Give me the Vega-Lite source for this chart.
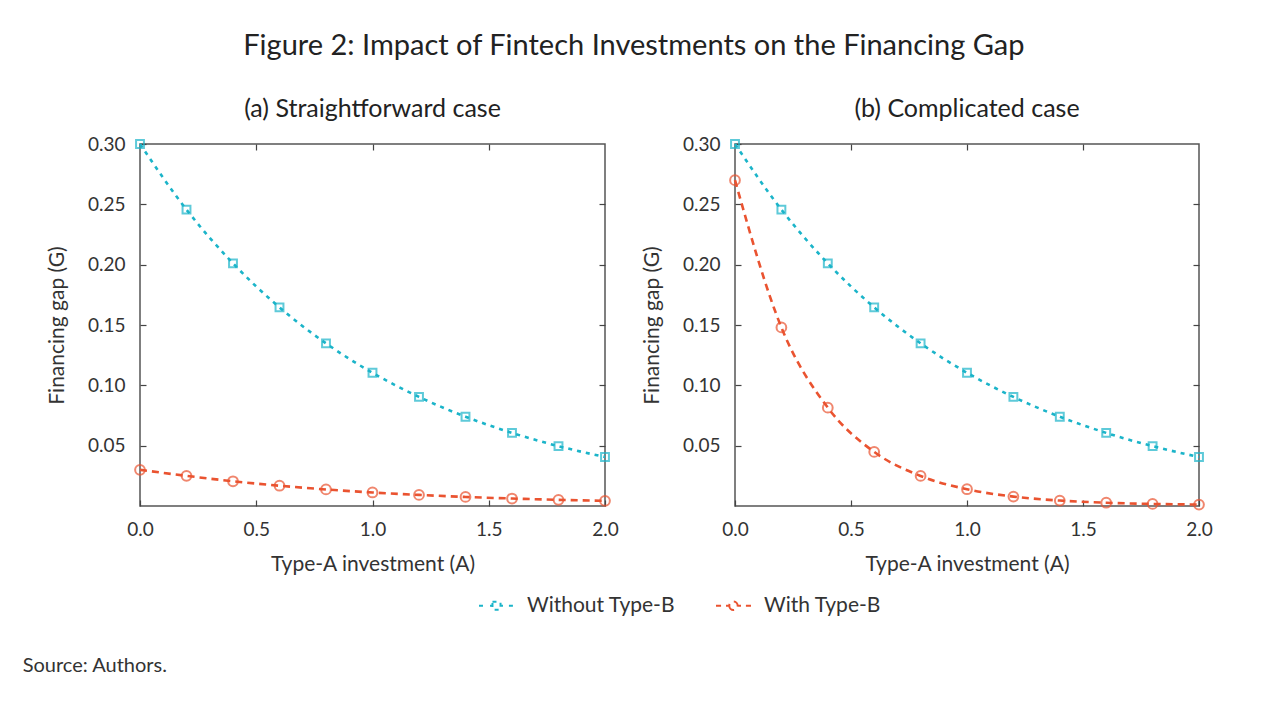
{
  "$schema": "https://vega.github.io/schema/vega-lite/v6.json",
  "padding": {"left": 22, "top": 32, "right": 10, "bottom": 10},
  "background": "white",
  "title": {"text": "Figure 2: Impact of Fintech Investments on the Financing Gap", "fontSize": 29, "font": "Lato", "fontWeight": "normal", "color": "#222222", "anchor": "middle", "offset": 35, "dx": 16},
  "datasets": {
    "d": [
      {"panel": "a", "series": "Without Type-B", "A": 0.0, "G": 0.300},
      {"panel": "a", "series": "Without Type-B", "A": 0.2, "G": 0.2456},
      {"panel": "a", "series": "Without Type-B", "A": 0.4, "G": 0.2011},
      {"panel": "a", "series": "Without Type-B", "A": 0.6, "G": 0.1646},
      {"panel": "a", "series": "Without Type-B", "A": 0.8, "G": 0.1348},
      {"panel": "a", "series": "Without Type-B", "A": 1.0, "G": 0.1104},
      {"panel": "a", "series": "Without Type-B", "A": 1.2, "G": 0.0904},
      {"panel": "a", "series": "Without Type-B", "A": 1.4, "G": 0.0740},
      {"panel": "a", "series": "Without Type-B", "A": 1.6, "G": 0.0606},
      {"panel": "a", "series": "Without Type-B", "A": 1.8, "G": 0.0496},
      {"panel": "a", "series": "Without Type-B", "A": 2.0, "G": 0.0406},
      {"panel": "a", "series": "With Type-B", "A": 0.0, "G": 0.0300},
      {"panel": "a", "series": "With Type-B", "A": 0.2, "G": 0.0250},
      {"panel": "a", "series": "With Type-B", "A": 0.4, "G": 0.0205},
      {"panel": "a", "series": "With Type-B", "A": 0.6, "G": 0.0168},
      {"panel": "a", "series": "With Type-B", "A": 0.8, "G": 0.0137},
      {"panel": "a", "series": "With Type-B", "A": 1.0, "G": 0.0112},
      {"panel": "a", "series": "With Type-B", "A": 1.2, "G": 0.0092},
      {"panel": "a", "series": "With Type-B", "A": 1.4, "G": 0.0075},
      {"panel": "a", "series": "With Type-B", "A": 1.6, "G": 0.0062},
      {"panel": "a", "series": "With Type-B", "A": 1.8, "G": 0.0051},
      {"panel": "a", "series": "With Type-B", "A": 2.0, "G": 0.0043},
      {"panel": "b", "series": "Without Type-B", "A": 0.0, "G": 0.300},
      {"panel": "b", "series": "Without Type-B", "A": 0.2, "G": 0.2456},
      {"panel": "b", "series": "Without Type-B", "A": 0.4, "G": 0.2011},
      {"panel": "b", "series": "Without Type-B", "A": 0.6, "G": 0.1646},
      {"panel": "b", "series": "Without Type-B", "A": 0.8, "G": 0.1348},
      {"panel": "b", "series": "Without Type-B", "A": 1.0, "G": 0.1104},
      {"panel": "b", "series": "Without Type-B", "A": 1.2, "G": 0.0904},
      {"panel": "b", "series": "Without Type-B", "A": 1.4, "G": 0.0740},
      {"panel": "b", "series": "Without Type-B", "A": 1.6, "G": 0.0606},
      {"panel": "b", "series": "Without Type-B", "A": 1.8, "G": 0.0496},
      {"panel": "b", "series": "Without Type-B", "A": 2.0, "G": 0.0406},
      {"panel": "b", "series": "With Type-B", "A": 0.0, "G": 0.270},
      {"panel": "b", "series": "With Type-B", "A": 0.2, "G": 0.148},
      {"panel": "b", "series": "With Type-B", "A": 0.4, "G": 0.0815},
      {"panel": "b", "series": "With Type-B", "A": 0.6, "G": 0.0448},
      {"panel": "b", "series": "With Type-B", "A": 0.8, "G": 0.0249},
      {"panel": "b", "series": "With Type-B", "A": 1.0, "G": 0.0139},
      {"panel": "b", "series": "With Type-B", "A": 1.2, "G": 0.0078},
      {"panel": "b", "series": "With Type-B", "A": 1.4, "G": 0.0045},
      {"panel": "b", "series": "With Type-B", "A": 1.6, "G": 0.0027},
      {"panel": "b", "series": "With Type-B", "A": 1.8, "G": 0.0017},
      {"panel": "b", "series": "With Type-B", "A": 2.0, "G": 0.0012}
    ]
  },
  "vconcat": [
    {
      "title": {"text": "Source: Authors.", "orient": "bottom", "anchor": "start", "fontSize": 20, "font": "Lato", "fontWeight": "normal", "color": "#333333", "offset": 81, "dx": -23},
      "spacing": 130,
      "bounds": "flush",
      "hconcat": [
        {
          "title": {"text": "(a) Straightforward case"},
          "width": 465,
          "height": 362,
          "data": {"name": "d"},
          "transform": [{"filter": "datum.panel == 'a'"}],
          "layer": [
            {
              "mark": {"type": "line", "strokeWidth": 2.6, "interpolate": "monotone"},
              "encoding": {
                "x": {"field": "A", "type": "quantitative", "scale": {"domain": [0, 2]}, "title": "Type-A investment (A)", "axis": {"values": [0, 0.5, 1, 1.5, 2], "format": ".1f", "orient": "bottom"}},
                "y": {"field": "G", "type": "quantitative", "scale": {"domain": [0, 0.3], "nice": false}, "title": "Financing gap (G)", "axis": {"values": [0.05, 0.1, 0.15, 0.2, 0.25, 0.3], "format": ".2f", "orient": "left"}},
                "color": {"field": "series", "type": "nominal", "sort": ["Without Type-B", "With Type-B"], "scale": {"domain": ["Without Type-B", "With Type-B"], "range": ["#1bb4c9", "#ea5330"]},
                  "legend": {"orient": "none", "legendX": 338, "legendY": 443, "direction": "horizontal", "title": null, "symbolDash": [1, 0],
                    "symbolType": {"expr": "datum.value === 'Without Type-B' ? 'M-1,0H-0.71M-0.37,0H-0.23M0.23,0H0.37M0.71,0H1M-0.23,-0.23H0.23V0.23H-0.23Z' : 'M-1,0H-0.71M-0.43,0H-0.24M0.24,0H0.43M0.71,0H1M-0.24,0A0.24,0.24 0 1,0 0.24,0A0.24,0.24 0 1,0 -0.24,0Z'"}}},
                "strokeDash": {"field": "series", "type": "nominal", "scale": {"domain": ["Without Type-B", "With Type-B"], "range": [[4, 5], [7, 5]]}, "legend": null}
              }
            },
            {
              "transform": [{"filter": "datum.series == 'Without Type-B'"}],
              "mark": {"type": "point", "filled": false, "strokeWidth": 2, "shape": "square", "size": 62, "color": "#1bb4c9"},
              "encoding": {
                "x": {"field": "A", "type": "quantitative", "axis": null},
                "y": {"field": "G", "type": "quantitative", "axis": null}
              }
            },
            {
              "transform": [{"filter": "datum.series == 'With Type-B'"}],
              "mark": {"type": "point", "filled": false, "strokeWidth": 2, "shape": "circle", "size": 95, "color": "#ea5330"},
              "encoding": {
                "x": {"field": "A", "type": "quantitative", "axis": null},
                "y": {"field": "G", "type": "quantitative", "axis": null}
              }
            },
            {
              "mark": {"type": "point", "opacity": 0},
              "encoding": {
                "x": {"field": "A", "type": "quantitative", "axis": {"orient": "top", "labels": false, "domain": false, "title": null, "values": [0.5, 1, 1.5], "tickSize": 6, "offset": -6}},
                "y": {"field": "G", "type": "quantitative", "axis": {"orient": "right", "labels": false, "domain": false, "title": null, "values": [0.05, 0.1, 0.15, 0.2, 0.25], "tickSize": 6, "offset": -6}}
              }
            }
          ],
          "resolve": {"axis": {"x": "independent", "y": "independent"}}
        },
        {
          "title": {"text": "(b) Complicated case"},
          "width": 464,
          "height": 362,
          "data": {"name": "d"},
          "transform": [{"filter": "datum.panel == 'b'"}],
          "layer": [
            {
              "mark": {"type": "line", "strokeWidth": 2.6, "interpolate": "monotone"},
              "encoding": {
                "x": {"field": "A", "type": "quantitative", "scale": {"domain": [0, 2]}, "title": "Type-A investment (A)", "axis": {"values": [0, 0.5, 1, 1.5, 2], "format": ".1f", "orient": "bottom"}},
                "y": {"field": "G", "type": "quantitative", "scale": {"domain": [0, 0.3], "nice": false}, "title": "Financing gap (G)", "axis": {"values": [0.05, 0.1, 0.15, 0.2, 0.25, 0.3], "format": ".2f", "orient": "left"}},
                "color": {"field": "series", "type": "nominal", "sort": ["Without Type-B", "With Type-B"], "scale": {"domain": ["Without Type-B", "With Type-B"], "range": ["#1bb4c9", "#ea5330"]},
                  "legend": {"orient": "none", "legendX": 338, "legendY": 443, "direction": "horizontal", "title": null, "symbolDash": [1, 0],
                    "symbolType": {"expr": "datum.value === 'Without Type-B' ? 'M-1,0H-0.71M-0.37,0H-0.23M0.23,0H0.37M0.71,0H1M-0.23,-0.23H0.23V0.23H-0.23Z' : 'M-1,0H-0.71M-0.43,0H-0.24M0.24,0H0.43M0.71,0H1M-0.24,0A0.24,0.24 0 1,0 0.24,0A0.24,0.24 0 1,0 -0.24,0Z'"}}},
                "strokeDash": {"field": "series", "type": "nominal", "scale": {"domain": ["Without Type-B", "With Type-B"], "range": [[4, 5], [7, 5]]}, "legend": null}
              }
            },
            {
              "transform": [{"filter": "datum.series == 'Without Type-B'"}],
              "mark": {"type": "point", "filled": false, "strokeWidth": 2, "shape": "square", "size": 62, "color": "#1bb4c9"},
              "encoding": {
                "x": {"field": "A", "type": "quantitative", "axis": null},
                "y": {"field": "G", "type": "quantitative", "axis": null}
              }
            },
            {
              "transform": [{"filter": "datum.series == 'With Type-B'"}],
              "mark": {"type": "point", "filled": false, "strokeWidth": 2, "shape": "circle", "size": 95, "color": "#ea5330"},
              "encoding": {
                "x": {"field": "A", "type": "quantitative", "axis": null},
                "y": {"field": "G", "type": "quantitative", "axis": null}
              }
            },
            {
              "mark": {"type": "point", "opacity": 0},
              "encoding": {
                "x": {"field": "A", "type": "quantitative", "axis": {"orient": "top", "labels": false, "domain": false, "title": null, "values": [0.5, 1, 1.5], "tickSize": 6, "offset": -6}},
                "y": {"field": "G", "type": "quantitative", "axis": {"orient": "right", "labels": false, "domain": false, "title": null, "values": [0.05, 0.1, 0.15, 0.2, 0.25], "tickSize": 6, "offset": -6}}
              }
            }
          ],
          "resolve": {"axis": {"x": "independent", "y": "independent"}}
        }
      ]
    }
  ],
  "resolve": {"scale": {"color": "shared", "strokeDash": "shared"}, "legend": {"color": "shared"}},
  "config": {
    "font": "Lato",
    "view": {"stroke": "#555555", "strokeWidth": 1.5},
    "title": {"fontSize": 25, "fontWeight": "normal", "color": "#222222", "font": "Lato", "offset": 13},
    "axis": {
      "labelFont": "Lato", "labelFontSize": 19, "labelColor": "#333333", "labelFlush": false,
      "titleFont": "Lato", "titleFontSize": 21, "titleFontWeight": "normal", "titleColor": "#333333",
      "grid": false, "domain": false, "ticks": true, "tickSize": -6, "tickColor": "#444444", "tickWidth": 1.2
    },
    "axisX": {"labelPadding": 20, "titlePadding": 14},
    "axisY": {"labelPadding": 21, "titlePadding": 20},
    "legend": {
      "labelFont": "Lato", "labelFontSize": 21, "labelColor": "#333333",
      "symbolSize": 1225, "symbolStrokeWidth": 2, "columnPadding": 36, "labelOffset": 12,
      "symbolFillColor": "transparent"
    }
  }
}
